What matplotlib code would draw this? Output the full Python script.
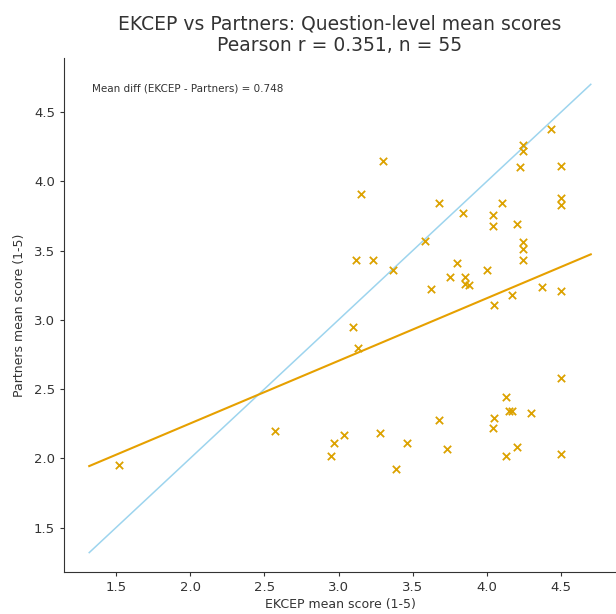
import numpy as np
import matplotlib
matplotlib.use("Agg")
from matplotlib import pyplot as plt

# question-level means
ekcep = [3.30, 3.15, 4.43, 4.24, 4.24, 4.22, 4.50, 4.50, 4.50, 3.68,
         3.84, 4.10, 4.04, 4.04, 4.20, 3.58, 4.24, 4.24, 4.24, 3.12,
         3.23, 3.37, 3.80, 4.00, 3.75, 3.85, 3.85, 3.88, 3.62, 4.37,
         4.17, 4.50, 4.05, 3.10, 3.13, 4.50, 4.13, 4.17, 4.15, 4.30,
         3.68, 4.05, 4.04, 3.28, 3.04, 2.97, 2.95, 3.46, 3.73, 4.20,
         4.13, 4.50, 3.39, 1.52, 2.57]
partners = [4.15, 3.91, 4.38, 4.26, 4.22, 4.10, 4.11, 3.88, 3.83, 3.84,
            3.77, 3.84, 3.76, 3.68, 3.69, 3.57, 3.56, 3.51, 3.43, 3.43,
            3.43, 3.36, 3.41, 3.36, 3.31, 3.31, 3.26, 3.25, 3.22, 3.24,
            3.18, 3.21, 3.11, 2.95, 2.80, 2.58, 2.44, 2.34, 2.34, 2.33,
            2.28, 2.29, 2.22, 2.18, 2.17, 2.11, 2.02, 2.11, 2.07, 2.08,
            2.02, 2.03, 1.92, 1.95, 2.20]

title = "EKCEP vs Partners: Question-level mean scores\nPearson r = 0.351, n = 55"
note = "Mean diff (EKCEP - Partners) = 0.748"

x = np.array(ekcep)
y = np.array(partners)

fig = plt.figure(figsize=(6.16, 6.14), dpi=100)
ax = fig.add_axes([64/616, 42/614, 552/616, 514/614])

lo = min(x.min(), y.min()) - 0.2
hi = max(x.max(), y.max()) + 0.2
line_x = np.array([lo, hi])

ax.scatter(x, y, marker="x", s=28, color="#DCA200", linewidths=1.3, zorder=3)
ax.plot(line_x, line_x, color="#8CCDEB", lw=1.1, alpha=0.85)
slope, icpt = np.polyfit(x, y, 1)
ax.plot(line_x, slope*line_x + icpt, color="#E6A000", lw=1.5)

ax.set_xlim(1.15, 4.87)
ax.set_ylim(1.18, 4.89)
ax.set_xticks([1.5, 2.0, 2.5, 3.0, 3.5, 4.0, 4.5])
ax.set_yticks([1.5, 2.0, 2.5, 3.0, 3.5, 4.0, 4.5])
ax.tick_params(labelsize=9.5, colors="#333333", length=3)
ax.spines["top"].set_visible(False)
ax.spines["right"].set_visible(False)
for s in ["left", "bottom"]:
    ax.spines[s].set_color("#333333")

ax.set_xlabel("EKCEP mean score (1-5)", fontsize=9, color="#333333", labelpad=3)
ax.set_ylabel("Partners mean score (1-5)", fontsize=9, color="#333333", labelpad=6)
ax.set_title(title, fontsize=13.5, color="#333333", pad=5, linespacing=1.2)
ax.text(0.05, 0.94, note, transform=ax.transAxes, fontsize=7.5,
        color="#333333", va="center")

fig.savefig("out.png", dpi=100)
